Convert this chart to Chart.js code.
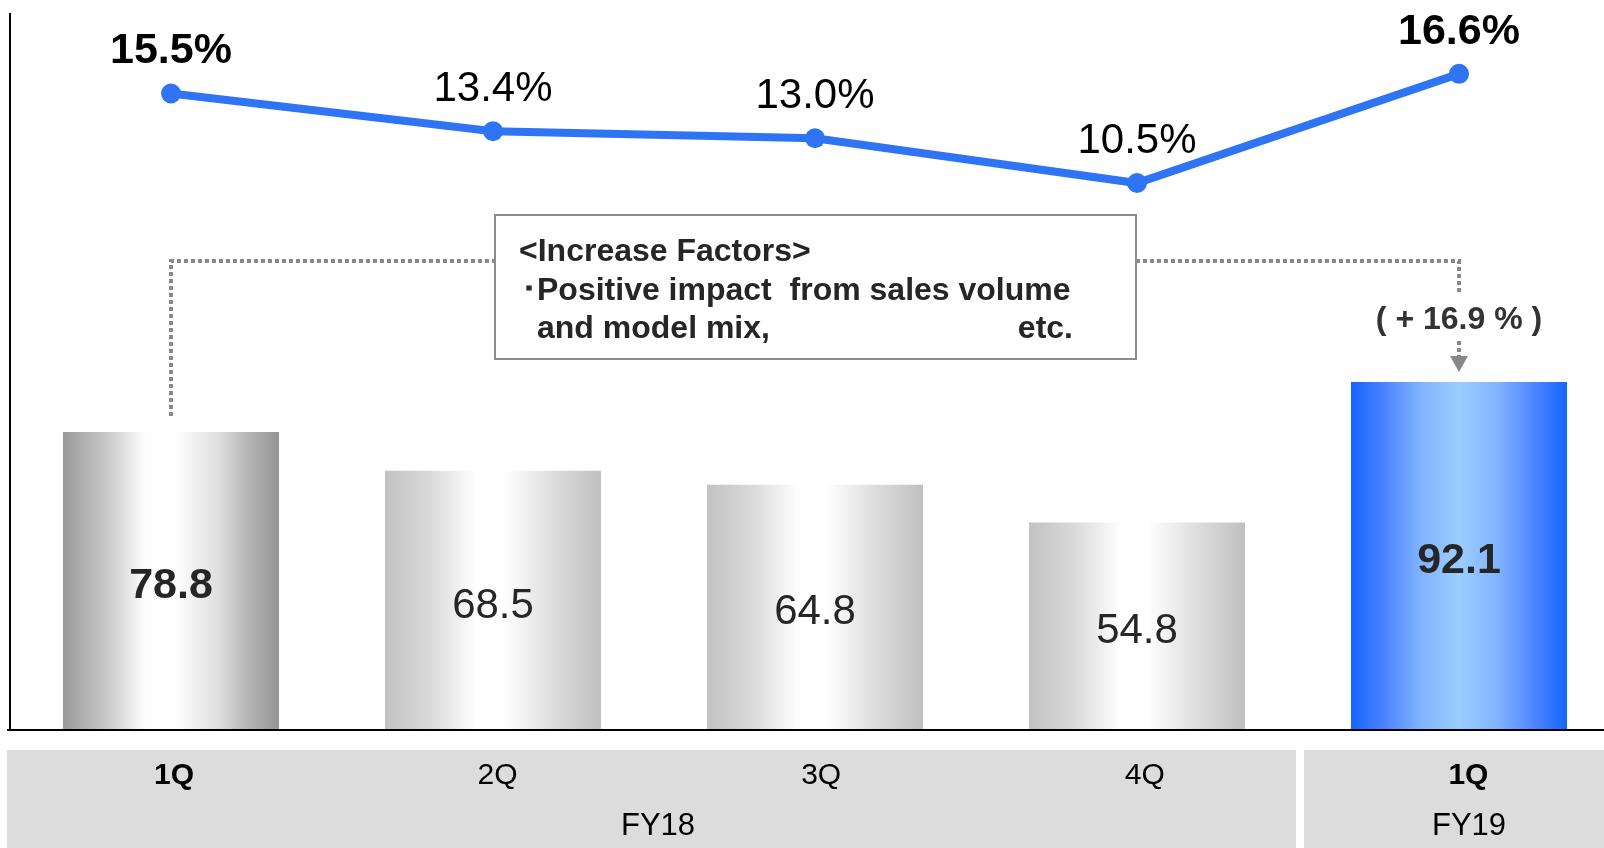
<!DOCTYPE html>
<html>
<head>
<meta charset="utf-8">
<script src="https://cdn.jsdelivr.net/npm/chart.js@4"></script>
<style>
html, body { margin: 0; padding: 0; background: #fff; overflow: hidden; }
#wrap { width: 1604px; height: 848px; overflow: hidden; position: relative; }
#chart1 { display: block; position: absolute; left: 0; top: 0; }
</style>
</head>
<body>
<div id="wrap"><canvas id="chart1" width="1620" height="848"></canvas></div>
<script>
// Data
const quarters = ['1Q', '2Q', '3Q', '4Q', '1Q']
const fiscal_years = ['FY18', 'FY19']
const op_income = [78.8, 68.5, 64.8, 54.8, 92.1]
const op_margin = [15.5, 13.4, 13.0, 10.5, 16.6]
const highlighted = [true, false, false, false, true]
const growth_label = '( + 16.9 % )'
const factor_lines = ['<Increase Factors>', '\uFF65Positive impact  from sales volume', 'and model mix,', 'etc.']

// Styles
const line_blue = '#2f74f5'
const stops_dark = [[0, '#999999'], [0.2, '#c8c8c8'], [0.38, '#fdfdfd'], [0.52, '#ffffff'], [0.72, '#dedede'], [0.87, '#b2b2b2'], [1, '#949494']]
const stops_light = [[0, '#c2c2c2'], [0.2, '#d8d8d8'], [0.42, '#fefefe'], [0.55, '#ffffff'], [0.8, '#dadada'], [1, '#c0c0c0']]
const stops_blue = [[0, '#1464ff'], [0.15, '#4a82ff'], [0.32, '#80b3ff'], [0.5, '#9ccdff'], [0.68, '#80b3ff'], [0.86, '#4a82ff'], [1, '#1464ff']]
const bar_pct = 0.671

const font = (size, bold) => (bold ? 'bold ' : '') + size + 'px "Liberation Sans", Arial, sans-serif'

const bar_fill = c => {
    const chart = c.chart
    if (!chart.chartArea || c.dataIndex === undefined) return '#cccccc'
    const xs = chart.scales.x
    const cx = xs.getPixelForValue(c.dataIndex)
    const w = (chart.chartArea.right - chart.chartArea.left) / quarters.length * bar_pct
    const g = chart.ctx.createLinearGradient(cx - w / 2, 0, cx + w / 2, 0)
    const stops = c.dataIndex == 4 ? stops_blue : (c.dataIndex == 0 ? stops_dark : stops_light)
    stops.forEach(s => g.addColorStop(s[0], s[1]))
    return g
}

const deco_plugin = {
    id: 'deco',
    afterDatasetsDraw(chart) {
        const { ctx, chartArea: a, scales: { x } } = chart
        const line_meta = chart.getDatasetMeta(0)
        const bar_meta = chart.getDatasetMeta(1)
        ctx.save()

        // axis lines
        ctx.strokeStyle = '#000'
        ctx.lineWidth = 2
        ctx.beginPath()
        ctx.moveTo(a.left, a.top); ctx.lineTo(a.left, a.bottom + 1)
        ctx.moveTo(a.left - 3, a.bottom + 1); ctx.lineTo(chart.width, a.bottom + 1)
        ctx.stroke()

        // dotted connector 1Q FY18 -> 1Q FY19
        const b0 = bar_meta.data[0], b4 = bar_meta.data[4]
        const yh = 261
        ctx.strokeStyle = '#888888'
        ctx.lineWidth = 4
        ctx.setLineDash([4, 3])
        ctx.beginPath()
        ctx.moveTo(b0.x, b0.y - 16); ctx.lineTo(b0.x, yh); ctx.lineTo(b4.x, yh); ctx.lineTo(b4.x, yh + 34)
        ctx.moveTo(b4.x, b4.y - 41); ctx.lineTo(b4.x, b4.y - 25)
        ctx.stroke()
        ctx.setLineDash([])
        ctx.fillStyle = '#888888'
        ctx.beginPath()
        ctx.moveTo(b4.x - 9, b4.y - 26); ctx.lineTo(b4.x + 9, b4.y - 26); ctx.lineTo(b4.x, b4.y - 10)
        ctx.closePath(); ctx.fill()

        ctx.fillStyle = '#333333'
        ctx.font = font(32, true)
        ctx.textAlign = 'center'
        ctx.textBaseline = 'middle'
        ctx.fillText(growth_label, b4.x, 320)

        // increase factors box
        ctx.fillStyle = '#ffffff'
        ctx.fillRect(495, 215, 641, 144)
        ctx.strokeStyle = '#8c8c8c'
        ctx.lineWidth = 2
        ctx.strokeRect(495, 215, 641, 144)
        ctx.fillStyle = '#262626'
        ctx.font = font(32, true)
        ctx.textAlign = 'left'
        ctx.fillText(factor_lines[0], 519, 252)
        ctx.fillText(factor_lines[1], 521, 291)
        ctx.fillText(factor_lines[2], 537, 329)
        ctx.textAlign = 'right'
        ctx.fillText(factor_lines[3], 1073, 329)

        // bar values
        ctx.textAlign = 'center'
        bar_meta.data.forEach((el, i) => {
            ctx.font = font(highlighted[i] ? 43 : 42, highlighted[i])
            ctx.fillStyle = '#262626'
            ctx.fillText(op_income[i].toFixed(1), el.x, (el.y + el.base) / 2 + 6)
        })
        // margin values
        line_meta.data.forEach((el, i) => {
            ctx.font = font(highlighted[i] ? 43 : 42, highlighted[i])
            ctx.fillStyle = '#000000'
            ctx.fillText(op_margin[i].toFixed(1) + '%', el.x, el.y - 42)
        })

        // category band
        const split = (x.getPixelForValue(3) + x.getPixelForValue(4)) / 2
        ctx.fillStyle = '#dcdcdc'
        ctx.fillRect(a.left - 3, 750, split - 2 - (a.left - 3), 98)
        ctx.fillRect(split + 6, 750, chart.width - split - 6, 98)
        ctx.fillStyle = '#000000'
        quarters.forEach((q, i) => {
            ctx.font = font(30, highlighted[i])
            ctx.fillText(q, x.getPixelForValue(i) + 3 + i * 1.6, 776)
        })
        ctx.font = font(31, false)
        ctx.fillText(fiscal_years[0], (x.getPixelForValue(0) + x.getPixelForValue(3)) / 2 + 4, 826)
        ctx.fillText(fiscal_years[1], x.getPixelForValue(4) + 10, 826)
        ctx.restore()
    }
}

const config = {
    data: {
        labels: quarters,
        datasets: [
            {
                type: 'line',
                data: op_margin,
                yAxisID: 'y2',
                order: 0,
                borderColor: line_blue,
                backgroundColor: line_blue,
                borderWidth: 8,
                pointRadius: 10,
                pointBorderWidth: 0,
                pointBackgroundColor: line_blue,
                tension: 0
            },
            {
                type: 'bar',
                data: op_income,
                yAxisID: 'y',
                order: 1,
                backgroundColor: bar_fill,
                barPercentage: bar_pct,
                categoryPercentage: 1
            }
        ]
    },
    options: {
        responsive: false,
        animation: false,
        layout: { autoPadding: false, padding: { left: 10, top: 13, right: 0, bottom: 119 } },
        plugins: {
            legend: { display: false },
            tooltip: { enabled: false }
        },
        scales: {
            x: { display: false, offset: true },
            y: { display: false, min: 0, max: 190 },
            y2: { display: false, min: -20, max: 20 }
        }
    },
    plugins: [deco_plugin]
}

new Chart(document.getElementById('chart1'), config)
</script>
</body>
</html>
